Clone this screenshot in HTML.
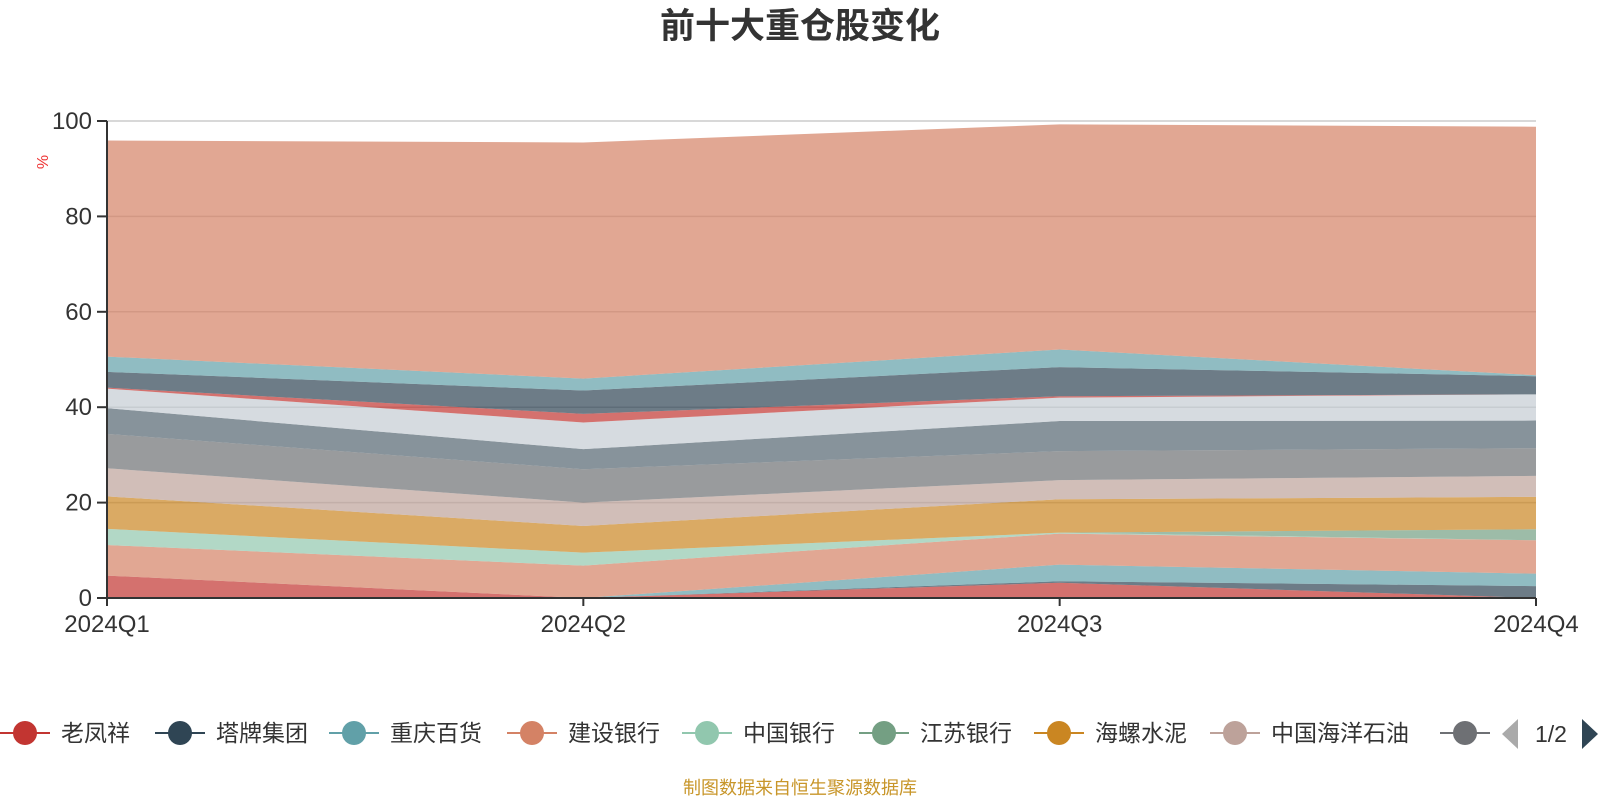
<!DOCTYPE html>
<html><head><meta charset="utf-8"><style>
html,body{margin:0;padding:0;background:#fff;}
svg{display:block;font-family:"Liberation Sans","Noto Sans CJK SC",sans-serif;}
</style></head><body>
<svg id="chart" width="1600" height="800" viewBox="0 0 1600 800">
<text x="800" y="38" text-anchor="middle" font-size="35" font-weight="bold" fill="#333">前十大重仓股变化</text>
<text x="0" y="0" transform="translate(48,162) rotate(-90)" text-anchor="middle" font-size="16" fill="#e33">%</text>
<g id="grid"></g><g id="areas"></g><g id="axes"></g><g id="legend"></g>
<text x="800" y="794" text-anchor="middle" font-size="18" fill="#c8962a">制图数据来自恒生聚源数据库</text>
</svg>
<script>
const categories = ["2024Q1","2024Q2","2024Q3","2024Q4"];
const seriesNames = ["老凤祥","塔牌集团","重庆百货","建设银行","中国银行","江苏银行","海螺水泥","中国海洋石油","其他一","其他二","其他三","其他四","其他五","其他六","其他七"];
const s1 = [4.7, 0, 3.2, 0];
const s2 = [0, 0, 0.3, 2.5];
const s3 = [0, 0, 3.5, 2.6];
const s4 = [6.4, 6.8, 6.5, 7.0];
const s5 = [3.4, 2.7, 0.2, 0];
const s6 = [0, 0, 0, 2.3];
const s7 = [6.8, 5.6, 7.0, 6.8];
const s8 = [5.9, 4.9, 4.0, 4.4];
const s9 = [7.2, 7.0, 6.1, 5.8];
const s10 = [5.4, 4.2, 6.3, 5.8];
const s11 = [4.1, 5.6, 4.9, 5.5];
const s12 = [0.2, 1.8, 0.3, 0];
const s13 = [3.3, 4.9, 6.1, 3.8];
const s14 = [3.2, 2.5, 3.7, 0.2];
const s15 = [45.3, 49.5, 47.2, 52.1];
const seriesValues = [s1,s2,s3,s4,s5,s6,s7,s8,s9,s10,s11,s12,s13,s14,s15];
const yTicks = [0,20,40,60,80,100];
const palette = ["#c23531","#2f4554","#61a0a8","#d48265","#91c7ae","#749f83","#ca8622","#bda29a","#6e7074","#546570","#c4ccd3"];

const NS="http://www.w3.org/2000/svg";
const X0=107,X1=1536,Y0=598,Y1=121;
const xScale=i=>X0+(X1-X0)*i/(categories.length-1);
const yScale=v=>Y0-(Y0-Y1)*v/100;
function mk(tag,attrs,parent){const e=document.createElementNS(NS,tag);for(const k in attrs)e.setAttribute(k,attrs[k]);parent.appendChild(e);return e;}
const grid=document.getElementById('grid'),areas=document.getElementById('areas'),axes=document.getElementById('axes'),legend=document.getElementById('legend');

yTicks.forEach(t=>{
  if(t>0){const l=mk('line',{x1:X0,x2:X1,y1:yScale(t),y2:yScale(t),stroke:'#ccc','stroke-width':1.5},grid);
  
  }
  const tk=mk('line',{x1:X0-10,x2:X0,y1:yScale(t),y2:yScale(t),stroke:'#333','stroke-width':2},axes);
  
  
  const tx=mk('text',{x:X0-15,y:yScale(t)+8,'text-anchor':'end','font-size':24,fill:'#333'},axes);
  tx.textContent=t;
  
  
});

const cum=categories.map(()=>0);
seriesValues.forEach((vals,si)=>{
  const lower=cum.slice();
  vals.forEach((v,i)=>cum[i]+=v);
  const pts=[];
  categories.forEach((c,i)=>pts.push(xScale(i)+','+yScale(cum[i])));
  for(let i=categories.length-1;i>=0;i--)pts.push(xScale(i)+','+yScale(lower[i]));
  const p=mk('polygon',{points:pts.join(' '),fill:palette[si%palette.length],'fill-opacity':0.7},areas);
  
  
});

const ax=mk('line',{x1:X0,x2:X0,y1:Y1,y2:Y0,stroke:'#333','stroke-width':2},axes);


const bx=mk('line',{x1:X0,x2:X1,y1:Y0,y2:Y0,stroke:'#333','stroke-width':2},axes);


categories.forEach((c,i)=>{
  const tk=mk('line',{x1:xScale(i),x2:xScale(i),y1:Y0,y2:Y0+8,stroke:'#333','stroke-width':2},axes);
  
  
  const tx=mk('text',{x:xScale(i),y:632,'text-anchor':'middle','font-size':24,fill:'#333'},axes);
  tx.textContent=c;
  
  
});

const legendCenters=[25,180,354,532,707,884,1059,1235,1465];
legendCenters.forEach((cx,i)=>{
  const g=mk('g',{},legend);
  
  
  const col=palette[i];
  mk('line',{x1:cx-25,x2:cx+25,y1:733,y2:733,stroke:col,'stroke-width':2},g);
  mk('circle',{cx:cx,cy:733,r:12,fill:col},g);
  if(i<8){const t=mk('text',{x:cx+36,y:741,'font-size':23,fill:'#333'},g);t.textContent=seriesNames[i];}
});
const pl=mk('polygon',{points:'1502,734 1518,719 1518,749',fill:'#aaa'},legend);


const pt=mk('text',{x:1551,y:742,'text-anchor':'middle','font-size':23,fill:'#333'},legend);
pt.textContent='1/2';


const pn=mk('polygon',{points:'1598,734 1582,719 1582,749',fill:'#2f4554'},legend);


</script>
</body></html>
